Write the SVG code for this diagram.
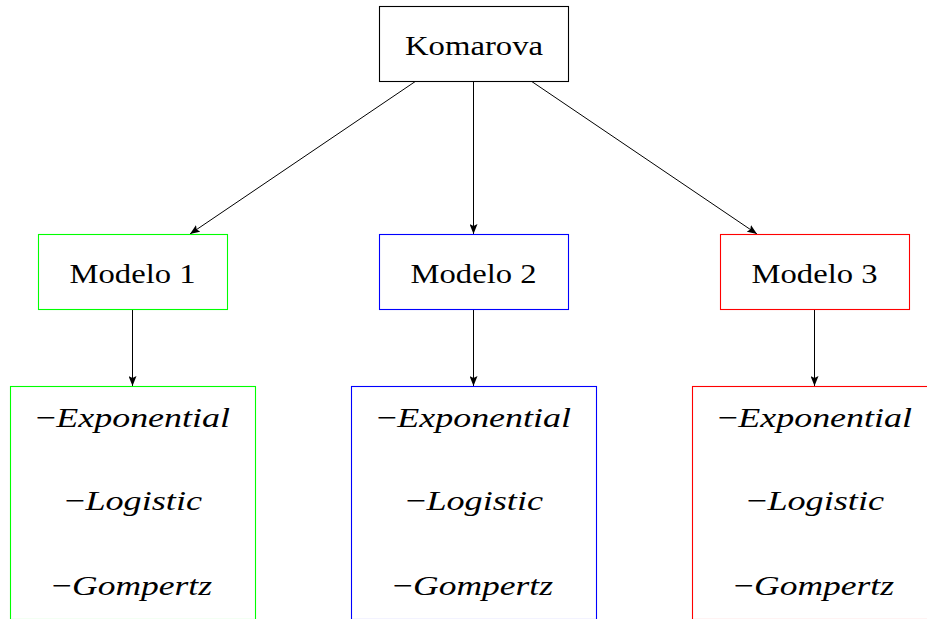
<svg xmlns="http://www.w3.org/2000/svg" width="927" height="619" viewBox="0 0 927 619">
<style>
.box{fill:#fff;stroke-width:1.1}
.k{stroke:#000}.g{stroke:#00ff00}.b{stroke:#0000ff}.r{stroke:#ff0000}
text{font-family:"Liberation Serif",serif;font-size:28px;fill:#000;text-anchor:middle}
.it{font-style:italic}
.edge{stroke:#000;stroke-width:1;fill:none;marker-end:url(#ah)}
</style>
<defs>
<marker id="ah" viewBox="0 0 10 8" refX="10" refY="4" markerWidth="10" markerHeight="8" markerUnits="userSpaceOnUse" orient="auto">
<path d="M0,0 L10,4 L0,8 L2,4 Z" fill="#000"/>
</marker>
</defs>
<rect width="927" height="619" fill="#fff"/>
<g id="connectors">
<line class="edge" x1="416" y1="81" x2="190" y2="234"/>
<line class="edge" x1="473.5" y1="81" x2="473.5" y2="234"/>
<line class="edge" x1="531" y1="81" x2="757" y2="234"/>
<line class="edge" x1="132.5" y1="310" x2="132.5" y2="386"/>
<line class="edge" x1="473.5" y1="310" x2="473.5" y2="386"/>
<line class="edge" x1="814.5" y1="310" x2="814.5" y2="386"/>
</g>
<g id="komarova">
<rect class="box k" x="379.5" y="6.5" width="189" height="75"/>
<text x="474" y="55" textLength="138" lengthAdjust="spacingAndGlyphs">Komarova</text>
</g>
<g id="modelo1">
<rect class="box g" x="38.5" y="234.5" width="189" height="75"/>
<text x="132.5" y="283" textLength="126" lengthAdjust="spacingAndGlyphs">Modelo 1</text>
</g>
<g id="modelo2">
<rect class="box b" x="379.5" y="234.5" width="189" height="75"/>
<text x="473.5" y="283" textLength="126" lengthAdjust="spacingAndGlyphs">Modelo 2</text>
</g>
<g id="modelo3">
<rect class="box r" x="720.5" y="234.5" width="189" height="75"/>
<text x="814.5" y="283" textLength="126" lengthAdjust="spacingAndGlyphs">Modelo 3</text>
</g>
<g id="list1">
<rect class="box g" x="10.5" y="386.5" width="245" height="233"/>
<text x="133" y="427" textLength="194" lengthAdjust="spacingAndGlyphs">−<tspan class="it">Exponential</tspan></text>
<text x="133.5" y="510" textLength="137" lengthAdjust="spacingAndGlyphs">−<tspan class="it">Logistic</tspan></text>
<text x="132" y="595" textLength="160" lengthAdjust="spacingAndGlyphs">−<tspan class="it">Gompertz</tspan></text>
</g>
<g id="list2">
<rect class="box b" x="351.5" y="386.5" width="245" height="233"/>
<text x="474" y="427" textLength="194" lengthAdjust="spacingAndGlyphs">−<tspan class="it">Exponential</tspan></text>
<text x="474.5" y="510" textLength="137" lengthAdjust="spacingAndGlyphs">−<tspan class="it">Logistic</tspan></text>
<text x="473" y="595" textLength="160" lengthAdjust="spacingAndGlyphs">−<tspan class="it">Gompertz</tspan></text>
</g>
<g id="list3">
<rect class="box r" x="692.5" y="386.5" width="245" height="233"/>
<text x="815" y="427" textLength="194" lengthAdjust="spacingAndGlyphs">−<tspan class="it">Exponential</tspan></text>
<text x="815.5" y="510" textLength="137" lengthAdjust="spacingAndGlyphs">−<tspan class="it">Logistic</tspan></text>
<text x="814" y="595" textLength="160" lengthAdjust="spacingAndGlyphs">−<tspan class="it">Gompertz</tspan></text>
</g>
</svg>
